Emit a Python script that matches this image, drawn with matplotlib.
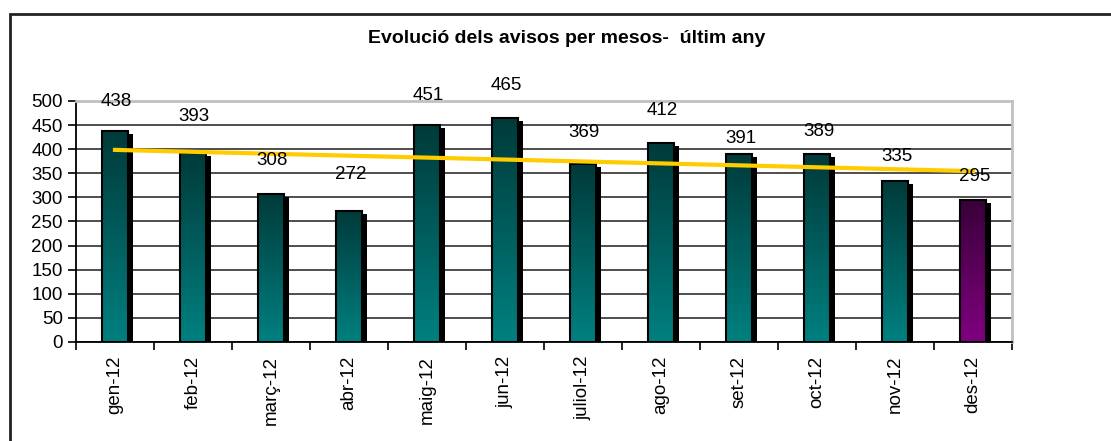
import numpy as np
import matplotlib.pyplot as plt
from matplotlib.colors import LinearSegmentedColormap
from matplotlib.patches import Rectangle
from matplotlib.transforms import offset_copy

plt.rcParams['font.family'] = ['Liberation Sans', 'DejaVu Sans']

# data
months = ['gen-12', 'feb-12', 'març-12', 'abr-12', 'maig-12', 'jun-12',
          'juliol-12', 'ago-12', 'set-12', 'oct-12', 'nov-12', 'des-12']
avisos = [438, 393, 308, 272, 451, 465, 369, 412, 391, 389, 335, 295]

# label lift above each bar, in pixels (labels were placed by hand in the original)
label_lift = [29, 36, 33, 36, 29, 32, 32, 33, 15, 23, 24, 23]

fig = plt.figure(figsize=(11.11, 4.41), dpi=100)
ax = fig.add_axes([0.0684, 0.2245, 0.8426, 0.5465])

x = np.arange(len(months))
w = 0.33

teal = LinearSegmentedColormap.from_list('teal', ['#008080', '#003a3a'])
purple = LinearSegmentedColormap.from_list('purple', ['#800080', '#380038'])
grad = np.linspace(0, 1, 256).reshape(-1, 1)

# shadows
shadow_tr = offset_copy(ax.transData, fig=fig, x=5, y=-3, units='dots')
ax.bar(x, avisos, width=w, color='black', transform=shadow_tr, zorder=2)

for i, v in enumerate(avisos):
    cmap = purple if i == len(avisos) - 1 else teal
    ax.imshow(grad, cmap=cmap, origin='lower', aspect='auto',
              extent=[i - w / 2, i + w / 2, 0, v], zorder=3)
ax.bar(x, avisos, width=w, facecolor='none', edgecolor='black', linewidth=1.5, zorder=4)

for i, v in enumerate(avisos):
    ax.annotate(str(v), (i, v), xytext=(1, label_lift[i] * 0.72), textcoords='offset points',
                ha='center', va='center', fontsize=13.5, zorder=6)

# linear trend
k, b = np.polyfit(x, avisos, 1)
ax.plot(x, k * x + b, color='#FFCC00', linewidth=3, zorder=5)

ax.set_xlim(-0.5, len(months) - 0.5)
ax.set_ylim(0, 500)
ax.set_yticks(range(0, 501, 50))
ax.set_xticks(x)
ax.set_xticklabels(months, rotation=90, fontsize=13.5)
ax.set_xticks(np.arange(-0.5, len(months), 1), minor=True)
ax.tick_params(axis='x', which='major', length=0, pad=10)
ax.tick_params(axis='x', which='minor', length=6, width=1.2, direction='out')
ax.tick_params(axis='y', labelsize=13.5, length=6, width=1.2, direction='out')

ax.grid(axis='y', color='#404040', linewidth=1.3, zorder=1)
ax.set_axisbelow(True)
for s in ['top', 'right']:
    ax.spines[s].set_color('#c0c0c0')
    ax.spines[s].set_linewidth(2)
for s in ['left', 'bottom']:
    ax.spines[s].set_color('black')
    ax.spines[s].set_linewidth(1.3)

fig.text(0.51, 0.912, 'Evolució dels avisos per mesos-  últim any',
         ha='center', va='center', fontsize=14, fontweight='bold')

# outer chart frame
fig.patches.append(Rectangle((0.009, -0.5), 1.5, 1.468, transform=fig.transFigure,
                             fill=False, edgecolor='#222222', linewidth=2))

fig.savefig('out.png', dpi=100)
